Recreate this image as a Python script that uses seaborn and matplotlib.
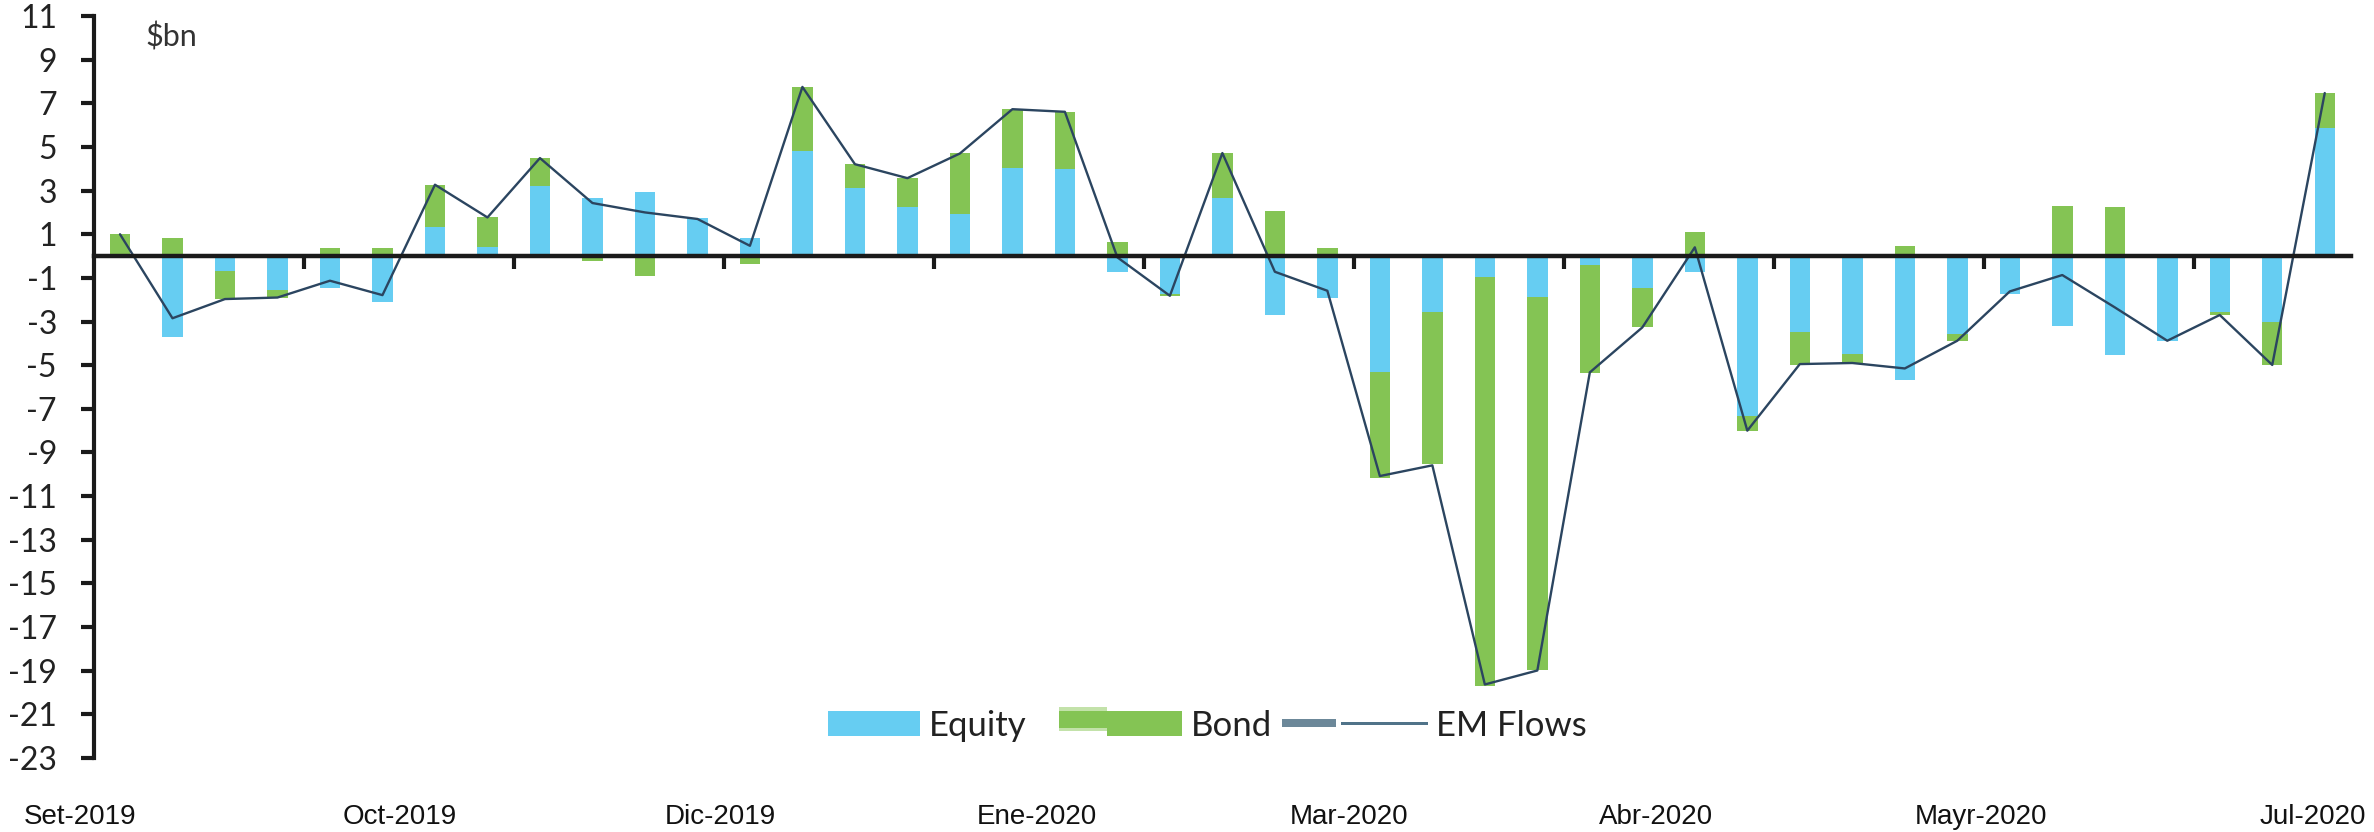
import numpy as np
import pandas as pd
import matplotlib
matplotlib.use("Agg")
import matplotlib.pyplot as plt
import seaborn as sns
from matplotlib.patches import Rectangle
from matplotlib.legend_handler import HandlerBase
from matplotlib.ticker import FixedLocator, NullFormatter

# Weekly EM portfolio flows, $bn
equity = [0.00, -3.72, -0.70, -1.55, -1.48, -2.12, 1.31, 0.40, 3.19, 2.65,
          2.95, 1.75, 0.82, 4.80, 3.10, 2.23, 1.92, 4.03, 3.98, -0.75,
          -1.74, 2.64, -2.70, -1.94, -5.33, -2.58, -0.98, -1.89, -0.41, -1.48,
          -0.75, -7.33, -3.47, -4.49, -5.68, -3.57, -1.74, -3.19, -4.53, -3.88,
          -2.58, -3.04, 5.89]
bond = [1.00, 0.85, -1.27, -0.38, 0.35, 0.35, 1.96, 1.37, 1.30, -0.21,
        -0.90, 0.00, -0.37, 2.93, 1.10, 1.34, 2.78, 2.70, 2.63, 0.66,
        -0.11, 2.06, 2.08, 0.35, -4.82, -6.96, -18.73, -17.10, -4.95, -1.79,
        1.11, -0.68, -1.51, -0.41, 0.47, -0.31, 0.00, 2.31, 2.23, 0.00,
        -0.12, -1.95, 1.58]
em_flows = [1.00, -2.85, -1.97, -1.90, -1.13, -1.79, 3.27, 1.77, 4.49, 2.43,
            2.00, 1.70, 0.47, 7.75, 4.21, 3.57, 4.70, 6.73, 6.61, -0.06,
            -1.82, 4.72, -0.72, -1.59, -10.08, -9.59, -19.63, -18.99, -5.33, -3.27,
            0.40, -8.00, -4.95, -4.90, -5.15, -3.88, -1.62, -0.87, -2.35, -3.88,
            -2.70, -4.99, 7.47]

month_labels = ["Set-2019", "Oct-2019", "Dic-2019", "Ene-2020",
                "Mar-2020", "Abr-2020", "Mayr-2020", "Jul-2020"]
month_label_pos = [-0.76, 5.33, 11.43, 17.47, 23.41, 29.27, 35.45, 41.77]
y_ticks = list(range(-23, 12, 2))

EQUITY_COLOR = "#66CDF2"
BOND_COLOR = "#84C454"
BOND_LIGHT = "#C3E2AA"
LINE_COLOR = "#2B4560"
LEGEND_GREY = "#6C8899"
LEGEND_LINE = "#507389"
AXIS_COLOR = "#1A1A1A"

sns.set_style("ticks")
plt.rcParams["axes.unicode_minus"] = False
plt.rcParams["font.family"] = ["Lato", "DejaVu Sans"]

df = pd.DataFrame({"week": np.arange(len(equity)), "equity": equity,
                   "bond": bond, "em_flows": em_flows})
# bond stacks on top of equity only when both share the same sign
bond_bottom = np.where(df["bond"] * df["equity"] > 0, df["equity"], 0.0)

fig = plt.figure(figsize=(23.74, 8.32), dpi=100)
ax = fig.add_axes([0.03949, 0.08894, 0.95082, 0.89183])

bar_w = 0.39
sns.barplot(data=df, x="week", y="equity", native_scale=True, width=bar_w,
            color=EQUITY_COLOR, saturation=1, linewidth=0, errorbar=None, ax=ax)
ax.bar(df["week"], df["bond"], width=bar_w, bottom=bond_bottom,
       color=BOND_COLOR, linewidth=0)
sns.lineplot(data=df, x="week", y="em_flows", color=LINE_COLOR,
             linewidth=1.7, ax=ax, legend=False)

ax.set_xlim(-0.5, len(equity) - 0.5)
ax.set_ylim(-23, 11)
ax.set_xlabel("")
ax.set_ylabel("")

for side in ("top", "right"):
    ax.spines[side].set_visible(False)
ax.spines["left"].set_linewidth(3)
ax.spines["left"].set_color(AXIS_COLOR)
ax.spines["bottom"].set_position(("data", 0))
ax.spines["bottom"].set_linewidth(3.2)
ax.spines["bottom"].set_color(AXIS_COLOR)

ax.yaxis.set_major_locator(FixedLocator(y_ticks))
ax.set_yticklabels([str(v) for v in y_ticks])
ax.tick_params(axis="y", direction="out", length=9.5, width=3, color=AXIS_COLOR,
               pad=17, labelsize=23, labelcolor="#222222")

ax.xaxis.set_major_locator(FixedLocator(np.arange(3.5, len(equity) - 1, 4)))
ax.xaxis.set_major_formatter(NullFormatter())
ax.tick_params(axis="x", direction="out", length=9.5, width=3, color=AXIS_COLOR)

label_tf = matplotlib.transforms.blended_transform_factory(ax.transData, fig.transFigure)
for pos, txt in zip(month_label_pos, month_labels):
    ax.text(pos, 0.018, txt, transform=label_tf, ha="center", va="center",
            fontsize=20, color="#111111",
            family=["Liberation Sans Narrow", "Liberation Sans", "DejaVu Sans"])

fig.text(0.0611, 0.956, r"\$bn", fontsize=22, color="#333333", ha="left", va="center")


class SegmentHandler(HandlerBase):
    """Legend key built from rectangles given as fractions of the key box."""

    def __init__(self, pieces):
        super().__init__()
        self.pieces = pieces

    def create_artists(self, legend, orig_handle, xdescent, ydescent,
                       width, height, fontsize, trans):
        arts = []
        for x0, x1, y0, y1, col in self.pieces:
            arts.append(Rectangle((-xdescent + x0 * width, -ydescent + y0 * height),
                                  (x1 - x0) * width, (y1 - y0) * height,
                                  facecolor=col, edgecolor="none", transform=trans))
        return arts


h_eq = Rectangle((0, 0), 1, 1)
h_bd = Rectangle((0, 0), 1, 1)
h_em = Rectangle((0, 0), 1, 1)
handler_map = {
    h_eq: SegmentHandler([(53 / 145, 1.0, 0.0, 1.0, EQUITY_COLOR)]),
    h_bd: SegmentHandler([(22 / 145, 70 / 145, 0.17, 1.17, BOND_LIGHT),
                          (22 / 145, 70 / 145, 0.29, 1.0, BOND_COLOR),
                          (70 / 145, 1.0, 0.0, 1.0, BOND_COLOR)]),
    h_em: SegmentHandler([(0.0, 53 / 145, 0.36, 0.66, LEGEND_GREY),
                          (58 / 145, 1.0, 0.45, 0.56, LEGEND_LINE)]),
}
fig.legend([h_eq, h_bd, h_em], ["Equity", "Bond", "EM Flows"], handler_map=handler_map,
           loc="center", bbox_to_anchor=(0.4975, 0.128), ncol=3, frameon=False,
           fontsize=25, handlelength=4.18, handleheight=0.7, handletextpad=0.25,
           columnspacing=0.3, labelcolor="#222222")

fig.savefig("out.png", dpi=100)
